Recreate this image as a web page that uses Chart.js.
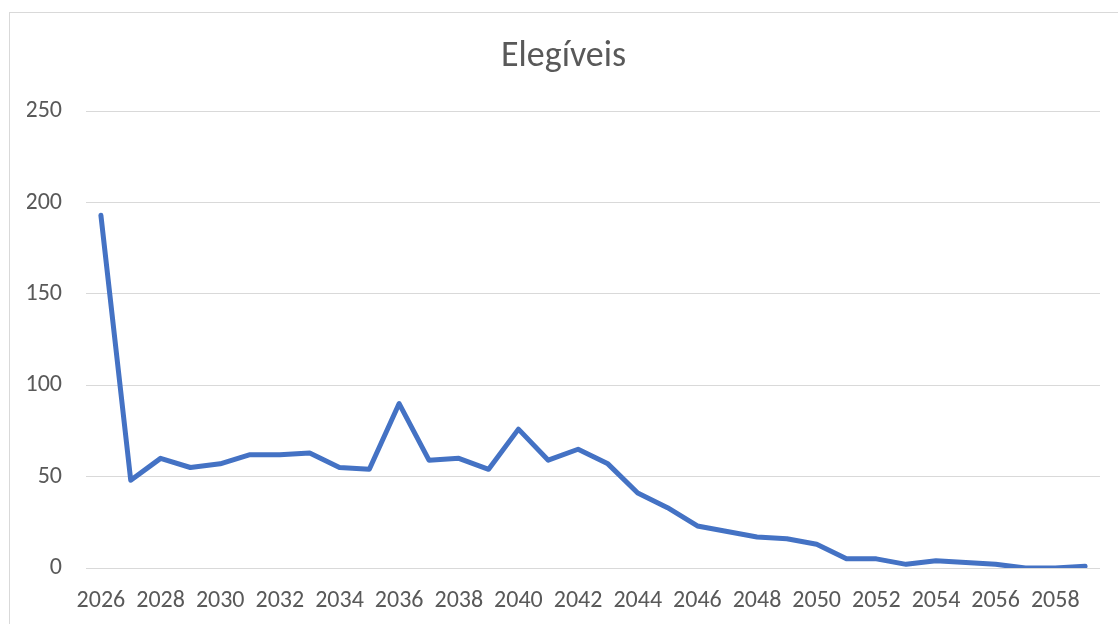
<!DOCTYPE html>
<html>
<head>
<meta charset="utf-8">
<script src="https://cdn.jsdelivr.net/npm/chart.js@4/dist/chart.umd.min.js"></script>
<style>
    html, body { margin: 0; padding: 0; background: #fff; overflow: hidden; }
    #frame {
        position: absolute; left: 9px; top: 12px;
        width: 1130px; height: 640px;
        border: 1px solid #d9d9d9;
    }
    #wrap { position: absolute; left: 0; top: 0; width: 1118px; height: 624px; }
</style>
</head>
<body>
<div id="frame"></div>
<div id="wrap"><canvas id="elegiveisChart"></canvas></div>
<script>
// Data
const years = ['2026', '2027', '2028', '2029', '2030', '2031', '2032', '2033', '2034', '2035',
    '2036', '2037', '2038', '2039', '2040', '2041', '2042', '2043', '2044', '2045',
    '2046', '2047', '2048', '2049', '2050', '2051', '2052', '2053', '2054', '2055',
    '2056', '2057', '2058', '2059'];
const elegiveis = [193, 48, 60, 55, 57, 62, 62, 63, 55, 54,
    90, 59, 60, 54, 76, 59, 65, 57, 41, 33,
    23, 20, 17, 16, 13, 5, 5, 2, 4, 3,
    2, 0, 0, 1];
const yTicks = [0, 50, 100, 150, 200, 250];

const fontFamily = "Carlito, 'Open Sans', sans-serif";
const textColor = '#595959';

const ctx = document.getElementById('elegiveisChart').getContext('2d');
new Chart(ctx, {
    type: 'line',
    data: {
        labels: years,
        datasets: [{
            label: 'Elegíveis',
            data: elegiveis,
            borderColor: '#4472C4',
            borderWidth: 5,
            borderJoinStyle: 'round',
            borderCapStyle: 'round',
            pointRadius: 0,
            tension: 0,
            fill: false
        }]
    },
    options: {
        responsive: true,
        maintainAspectRatio: false,
        animation: false,
        layout: { padding: { top: 20, left: 27, right: 18, bottom: 11 } },
        plugins: {
            legend: { display: false },
            tooltip: { enabled: false },
            title: {
                display: true,
                text: 'Elegíveis',
                color: textColor,
                font: { family: fontFamily, size: 36, weight: 'normal' },
                padding: { top: 15, bottom: 33 }
            }
        },
        scales: {
            x: {
                offset: true,
                grid: { display: false, drawTicks: false },
                border: { display: false },
                afterFit: function (axis) { axis.height = 45; },
                ticks: {
                    autoSkip: false,
                    maxRotation: 0,
                    padding: 19,
                    color: textColor,
                    font: { family: fontFamily, size: 24 },
                    callback: function (value, index) {
                        return index % 2 === 0 ? years[index] : '';
                    }
                }
            },
            y: {
                min: yTicks[0],
                max: yTicks[yTicks.length - 1],
                afterBuildTicks: function (axis) {
                    axis.ticks = yTicks.map(v => ({ value: v }));
                },
                afterFit: function (axis) { axis.width = 59; },
                grid: { color: '#d9d9d9', lineWidth: 1, drawTicks: false },
                border: { display: false },
                ticks: {
                    padding: 24,
                    color: textColor,
                    font: { family: fontFamily, size: 24 }
                }
            }
        }
    }
});
</script>
</body>
</html>
